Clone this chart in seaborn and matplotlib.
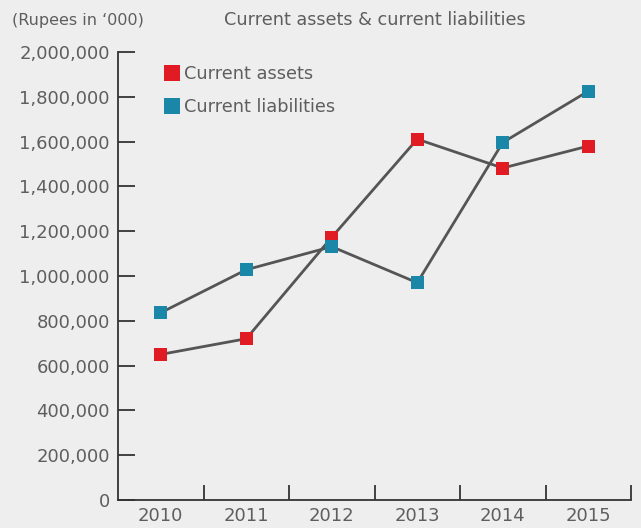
import matplotlib
matplotlib.use('Agg')
import matplotlib.pyplot as plt
from matplotlib.lines import Line2D
from matplotlib.ticker import FuncFormatter, FixedLocator
import seaborn as sns
import pandas as pd

years = [2010, 2011, 2012, 2013, 2014, 2015]
current_assets = [650000, 720000, 1173000, 1611000, 1482000, 1580000]
current_liabilities = [836000, 1028000, 1131000, 970000, 1596000, 1825000]
series_names = ['Current assets', 'Current liabilities']
series_colors = ['#e11b24', '#1b87a8']
y_ticks = [0, 200000, 400000, 600000, 800000, 1000000, 1200000, 1400000,
           1600000, 1800000, 2000000]
title_text = 'Current assets & current liabilities'
unit_text = '(Rupees in \u2018000)'

df = pd.DataFrame({
    'Year': years * 2,
    'Value': current_assets + current_liabilities,
    'Series': [series_names[0]] * len(years) + [series_names[1]] * len(years),
})

sns.set_style('ticks')
plt.rcParams['font.family'] = ['DejaVu Sans']
text_col = '#5e5e5e'
bg = '#eeeeee'

fig = plt.figure(figsize=(6.41, 5.28), dpi=100, facecolor=bg)
ax = fig.add_axes([118 / 641, 1 - 500 / 528, (631 - 118) / 641, (500 - 52) / 528])
ax.set_facecolor(bg)

sns.lineplot(data=df, x='Year', y='Value', units='Series', estimator=None,
             color='#555555', linewidth=2.0, ax=ax, zorder=2, legend=False)
sns.scatterplot(data=df, x='Year', y='Value', hue='Series',
                palette=dict(zip(series_names, series_colors)), marker='s',
                s=88, edgecolor='none', linewidth=0, ax=ax, zorder=3, legend=False)

ax.set_xlim(years[0] - 0.5, years[-1] + 0.5)
ax.set_ylim(y_ticks[0], y_ticks[-1])
ax.set_xlabel('')
ax.set_ylabel('')

ax.set_xticks(years)
ax.set_xticklabels([str(y) for y in years])
ax.xaxis.set_minor_locator(FixedLocator([y + 0.5 for y in years]))
ax.tick_params(axis='x', which='major', length=0, pad=5, labelsize=13, labelcolor=text_col)
ax.tick_params(axis='x', which='minor', direction='in', length=11, width=1.3, color='#333333')
ax.set_yticks(y_ticks)
ax.yaxis.set_major_formatter(FuncFormatter(lambda v, p: f'{int(v):,}'))
ax.tick_params(axis='y', which='major', direction='in', length=12, width=1.3,
               color='#333333', pad=6, labelsize=13, labelcolor=text_col)

for s in ['top', 'right']:
    ax.spines[s].set_visible(False)
for s in ['left', 'bottom']:
    ax.spines[s].set_color('#333333')
    ax.spines[s].set_linewidth(1.3)

handles = [Line2D([0], [0], marker='s', linestyle='none', markersize=11.5,
                  markerfacecolor=c, markeredgewidth=0) for c in series_colors]
leg = ax.legend(handles, series_names, loc='upper left',
                bbox_to_anchor=(165 / 641, 1 - 65 / 528), bbox_transform=fig.transFigure,
                frameon=False, fontsize=12.8, handlelength=0.75, handletextpad=0.3,
                borderpad=0, borderaxespad=0, labelspacing=0.85)
for t in leg.get_texts():
    t.set_color(text_col)

fig.text(375 / 641, 1 - 20 / 528, title_text, ha='center', va='center',
         fontsize=12.7, color=text_col)
fig.text(12 / 641, 1 - 21 / 528, unit_text, ha='left', va='center',
         fontsize=11.5, color=text_col)

fig.savefig('out.png', dpi=100, facecolor=bg)
